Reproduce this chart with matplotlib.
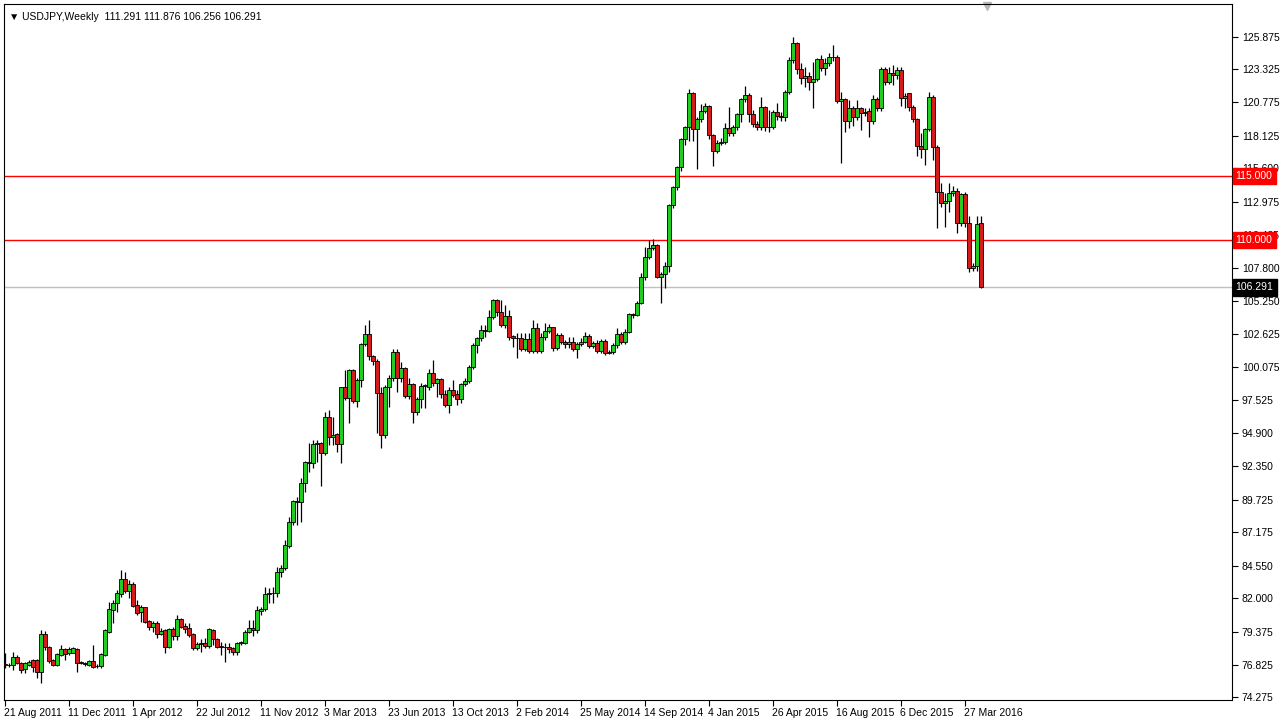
import matplotlib
matplotlib.use('Agg')
import matplotlib.pyplot as plt
import matplotlib.transforms as mtransforms
import numpy as np

plt.rcParams['font.family'] = ['Liberation Sans', 'DejaVu Sans']

# weekly USDJPY candles (one value per week)
opens = [76.90, 76.82, 76.80, 77.45, 76.98, 76.46, 76.80, 77.19, 77.19, 76.28,
         79.22, 78.18, 77.19, 76.80, 77.58, 78.02, 77.71, 77.76, 78.02, 76.98,
         76.90, 76.80, 77.14, 76.75, 76.72, 77.58, 79.40, 81.09, 81.61, 82.32,
         83.52, 82.60, 83.125, 81.48, 80.91, 81.30, 80.23, 79.79, 80.10, 79.22,
         79.53, 78.18, 79.58, 79.06, 80.36, 79.87, 79.66, 79.19, 78.15, 78.41,
         78.54, 78.28, 79.53, 78.80, 78.23, 78.20, 78.23, 78.15, 77.84, 78.49,
         78.54, 79.40, 79.71, 79.50, 81.00, 81.15, 82.35, 82.40, 82.40, 84.09,
         84.35, 86.09, 87.99, 89.60, 89.51, 90.99, 92.60, 92.55, 94.06, 94.11,
         93.33, 96.15, 94.64, 94.84, 94.04, 98.49, 97.63, 99.84, 97.45, 99.06,
         101.85, 102.63, 100.96, 100.57, 98.07, 94.77, 98.49, 99.24, 101.22, 99.19,
         99.97, 97.84, 98.72, 96.59, 97.55, 98.62, 98.54, 99.64, 98.80, 99.11,
         97.94, 97.11, 98.28, 97.94, 97.55, 98.72, 98.98, 100.05, 101.80, 102.32,
         102.97, 102.92, 103.96, 105.31, 104.35, 103.36, 104.09, 102.50, 102.32, 102.35,
         101.46, 102.24, 101.33, 103.10, 101.33, 102.40, 102.89, 103.18, 101.54, 102.58,
         102.06, 101.87, 102.06, 101.46, 101.87, 102.03, 102.50, 101.72, 101.93, 101.35,
         102.14, 101.20, 101.28, 101.80, 102.66, 102.06, 102.84, 104.19, 104.15, 105.10,
         107.14, 108.70, 109.35, 109.61, 107.08, 107.32, 107.97, 112.73, 114.11, 115.68,
         117.86, 118.80, 121.46, 118.65, 119.43, 120.10, 120.47, 118.20, 116.98, 117.60,
         117.68, 118.72, 118.33, 118.80, 119.84, 120.99, 121.30, 119.84, 119.06, 118.85,
         120.36, 118.80, 118.85, 120.03, 119.69, 119.58, 121.59, 124.06, 125.36, 123.33,
         122.63, 122.81, 122.37, 122.55, 124.11, 123.41, 123.85, 124.27, 124.30, 120.89,
         120.99, 119.32, 120.29, 119.63, 120.29, 119.95, 120.10, 119.32, 120.99, 120.29,
         123.33, 122.37, 123.07, 122.90, 123.30, 121.07, 121.46, 120.42, 119.43, 117.34,
         117.08, 118.65, 121.20, 117.24, 113.78, 112.86, 113.05, 113.65, 113.83, 111.30,
         113.57, 111.35, 107.79, 107.97, 111.291]

highs = [77.70, 76.95, 77.84, 77.60, 77.05, 77.06, 77.15, 77.30, 77.30, 79.53,
         79.48, 78.25, 77.30, 77.75, 78.35, 78.10, 78.20, 78.23, 78.10, 77.10,
         77.00, 77.20, 78.36, 76.85, 77.70, 79.60, 81.74, 81.875, 82.66, 84.22,
         84.09, 83.44, 83.31, 81.875, 81.48, 81.35, 80.31, 80.20, 80.20, 79.66,
         79.60, 79.70, 79.79, 80.70, 80.50, 80.05, 80.05, 79.27, 78.62, 78.80,
         78.88, 79.66, 79.60, 78.88, 78.62, 78.49, 78.49, 78.20, 78.62, 78.70,
         79.53, 80.30, 80.30, 81.40, 81.30, 82.86, 82.79, 82.92, 84.48, 84.61,
         86.56, 88.39, 89.69, 89.95, 91.38, 92.76, 94.11, 94.375, 94.375, 94.24,
         96.59, 96.72, 96.20, 94.90, 98.54, 99.84, 99.90, 99.90, 99.19, 101.93,
         103.36, 103.75, 101.00, 100.70, 98.54, 98.67, 99.45, 101.46, 101.46, 100.50,
         100.10, 99.19, 98.80, 97.70, 98.80, 98.75, 99.90, 100.63, 99.20, 99.20,
         98.28, 98.50, 99.06, 98.28, 98.80, 99.19, 100.23, 101.93, 102.45, 103.36,
         103.36, 104.53, 105.39, 105.39, 105.31, 104.92, 104.53, 102.58, 102.71, 102.71,
         102.71, 102.71, 103.75, 103.49, 102.70, 103.49, 103.40, 103.23, 102.70, 102.71,
         102.20, 102.40, 102.40, 102.00, 102.32, 102.84, 102.66, 102.10, 102.19, 102.25,
         102.30, 101.40, 101.93, 103.10, 102.80, 103.02, 104.30, 104.30, 105.20, 107.40,
         109.48, 110.00, 110.05, 109.70, 107.50, 108.30, 112.80, 114.22, 115.78, 118.00,
         118.91, 121.77, 121.60, 119.60, 120.625, 120.73, 120.55, 118.30, 117.80, 117.95,
         119.11, 120.36, 119.00, 119.95, 121.07, 122.00, 121.50, 120.16, 119.30, 121.20,
         120.46, 120.16, 120.16, 120.68, 120.00, 121.72, 124.30, 125.83, 125.50, 123.80,
         123.54, 123.10, 123.93, 124.20, 124.45, 124.20, 124.58, 125.23, 124.45, 121.59,
         121.10, 120.94, 120.50, 120.94, 120.42, 120.30, 120.30, 121.33, 121.20, 123.50,
         123.54, 123.54, 123.70, 123.50, 123.50, 121.46, 121.50, 120.55, 119.50, 118.33,
         118.72, 121.59, 121.33, 117.40, 114.43, 113.65, 114.48, 114.22, 114.04, 113.70,
         113.78, 111.875, 108.20, 111.875, 111.876]

lows = [76.55, 76.65, 76.41, 76.85, 76.15, 76.15, 76.70, 76.28, 75.76, 75.36,
        77.97, 76.93, 76.70, 76.70, 77.50, 77.19, 77.60, 77.70, 76.28, 76.85,
        76.75, 76.70, 76.54, 76.54, 76.54, 77.50, 79.30, 80.05, 80.96, 82.14,
        82.40, 82.00, 81.35, 80.70, 80.18, 80.05, 79.53, 79.40, 78.88, 79.14,
        77.71, 78.10, 78.75, 78.75, 79.66, 79.27, 78.95, 78.00, 77.97, 77.84,
        78.10, 78.10, 78.36, 78.10, 77.58, 77.06, 77.71, 77.58, 77.58, 78.36,
        78.40, 79.30, 79.10, 79.30, 80.70, 81.00, 81.61, 81.67, 82.14, 83.70,
        84.20, 85.91, 87.73, 87.73, 87.99, 90.34, 91.90, 92.16, 92.68, 90.78,
        93.20, 93.98, 93.98, 93.46, 92.55, 97.50, 95.68, 97.24, 96.98, 98.54,
        101.70, 100.60, 100.23, 94.90, 93.72, 94.50, 96.93, 99.00, 98.15, 98.90,
        97.63, 97.60, 95.73, 96.33, 96.85, 96.85, 98.30, 98.60, 97.76, 97.63,
        96.95, 96.51, 97.70, 97.11, 97.30, 98.60, 98.85, 99.90, 101.15, 102.10,
        102.45, 102.80, 103.80, 104.10, 103.23, 103.10, 102.20, 101.67, 100.76, 101.30,
        101.30, 101.20, 101.15, 101.20, 101.20, 102.20, 102.70, 101.30, 101.40, 101.90,
        101.60, 101.60, 101.30, 100.76, 101.70, 101.93, 101.54, 101.60, 101.20, 101.20,
        101.02, 101.10, 101.10, 101.60, 101.87, 101.90, 102.70, 103.90, 104.10, 105.00,
        106.90, 108.50, 109.20, 107.00, 105.10, 106.22, 107.50, 112.47, 113.90, 115.40,
        117.42, 117.76, 117.76, 115.52, 119.20, 119.90, 117.90, 115.78, 116.80, 117.40,
        117.50, 118.10, 118.12, 118.60, 119.24, 120.80, 119.24, 118.80, 118.60, 118.60,
        118.50, 118.46, 118.70, 119.40, 119.30, 119.30, 121.40, 123.80, 123.00, 122.20,
        121.98, 121.72, 120.29, 122.40, 123.20, 122.89, 123.60, 124.00, 120.68, 116.04,
        118.46, 118.72, 118.91, 119.40, 118.59, 119.70, 118.02, 119.10, 120.10, 120.10,
        122.10, 122.20, 122.10, 122.60, 120.47, 120.29, 120.10, 119.20, 116.56, 116.38,
        115.86, 118.50, 116.25, 110.91, 112.60, 111.04, 112.21, 113.40, 110.57, 111.10,
        111.00, 107.53, 107.60, 107.60, 106.256]

closes = [76.80, 76.78, 77.45, 76.93, 76.41, 76.98, 77.06, 76.67, 76.28, 79.22,
          78.23, 77.14, 76.80, 77.66, 78.02, 77.63, 78.02, 78.10, 76.93, 76.95,
          76.88, 77.14, 76.67, 76.70, 77.63, 79.53, 81.15, 81.67, 82.40, 83.52,
          82.60, 83.125, 81.43, 80.83, 81.30, 80.18, 79.79, 80.10, 79.22, 79.48,
          78.18, 79.61, 79.06, 80.36, 79.79, 79.61, 79.14, 78.15, 78.44, 78.54,
          78.28, 79.58, 78.80, 78.23, 78.20, 78.18, 78.02, 77.84, 78.54, 78.62,
          79.40, 79.71, 79.50, 81.10, 81.15, 82.34, 82.40, 82.45, 84.09, 84.35,
          86.17, 87.99, 89.61, 89.56, 90.99, 92.63, 92.63, 94.06, 94.11, 93.33,
          96.15, 94.64, 94.80, 94.04, 98.49, 97.63, 99.84, 97.45, 99.06, 101.85,
          102.63, 100.96, 100.57, 98.07, 94.77, 98.49, 99.24, 101.22, 99.19, 99.97,
          97.84, 98.72, 96.59, 97.55, 98.62, 98.70, 99.64, 98.80, 99.11, 97.94,
          97.11, 98.28, 97.89, 97.55, 98.72, 98.98, 100.05, 101.80, 102.32, 102.97,
          102.92, 103.96, 105.31, 104.35, 103.36, 104.09, 102.45, 102.32, 102.35, 101.46,
          102.24, 101.33, 103.10, 101.33, 102.40, 102.89, 103.18, 101.54, 102.58, 102.06,
          101.87, 102.06, 101.46, 101.87, 102.03, 102.50, 101.72, 101.93, 101.35, 102.14,
          101.20, 101.28, 101.80, 102.66, 102.06, 102.84, 104.19, 104.15, 105.10, 107.14,
          108.70, 109.35, 109.61, 107.08, 107.32, 107.97, 112.73, 114.11, 115.68, 117.86,
          118.80, 121.46, 118.65, 119.43, 120.10, 120.47, 118.20, 116.98, 117.60, 117.68,
          118.72, 118.33, 118.80, 119.84, 120.99, 121.30, 119.84, 119.06, 118.85, 120.36,
          118.80, 118.85, 120.03, 119.69, 119.58, 121.59, 124.06, 125.36, 123.33, 122.63,
          122.81, 122.37, 122.55, 124.11, 123.41, 123.85, 124.27, 124.30, 120.89, 120.99,
          119.32, 120.29, 119.63, 120.29, 119.95, 120.00, 119.32, 120.99, 120.29, 123.33,
          122.37, 123.07, 122.90, 123.30, 121.07, 121.25, 120.42, 119.43, 117.34, 117.08,
          118.65, 121.20, 117.24, 113.78, 112.86, 113.05, 113.65, 113.83, 111.30, 113.57,
          111.30, 107.79, 107.97, 111.25, 106.291]

date_labels = ['21 Aug 2011', '11 Dec 2011', '1 Apr 2012', '22 Jul 2012', '11 Nov 2012',
               '3 Mar 2013', '23 Jun 2013', '13 Oct 2013', '2 Feb 2014', '25 May 2014',
               '14 Sep 2014', '4 Jan 2015', '26 Apr 2015', '16 Aug 2015', '6 Dec 2015',
               '27 Mar 2016']
price_ticks = [125.875, 123.325, 120.775, 118.125, 115.600, 112.975, 110.425, 107.800,
               105.250, 102.625, 100.075, 97.525, 94.900, 92.350, 89.725, 87.175,
               84.550, 82.000, 79.375, 76.825, 74.275]
levels = [115.000, 110.000]
last_price = 106.291

o = np.array(opens)
h = np.array(highs)
l = np.array(lows)
c = np.array(closes)
n = len(c)
x = np.arange(n)

W, H = 1280, 723
fig = plt.figure(figsize=(W / 100, H / 100), dpi=100)
ax = fig.add_axes([4 / W, 23 / H, 1228 / W, 696 / H])
ax.set_facecolor('white')

up = c >= o
green = '#22cc22'
red = '#d41c1c'

ax.vlines(x, l, h, color='black', linewidth=0.9, zorder=2)
body_lo = np.minimum(o, c)
body_h = np.maximum(np.abs(c - o), 0.05)
ax.bar(x, body_h, bottom=body_lo, width=0.78,
       color=np.where(up, green, red), edgecolor='black', linewidth=0.6, zorder=3)

for lv in levels:
    ax.axhline(lv, color='red', linewidth=1, zorder=1)
ax.axhline(last_price, color='#c0c0c0', linewidth=1, zorder=1)

ax.set_xlim(-0.25, 306.75)
ax.set_ylim(74.0625, 128.4375)

ax.yaxis.tick_right()
ax.set_yticks(price_ticks)
ax.set_yticklabels(['%.3f' % v for v in price_ticks])
ax.tick_params(axis='y', direction='out', length=4, width=0.8, labelsize=7.5, pad=3)
ax.set_xticks(np.arange(len(date_labels)) * 16)
ax.set_xticklabels(date_labels)
ax.tick_params(axis='x', direction='out', length=4, width=0.8, labelsize=7.5, pad=2)
for t in ax.get_xticklabels():
    t.set_ha('left')
    t.set_transform(t.get_transform() + mtransforms.ScaledTranslation(-1 / 100, 0, fig.dpi_scale_trans))
for s in ax.spines.values():
    s.set_linewidth(0.8)

# level boxes on the price scale
trans = mtransforms.blended_transform_factory(ax.transAxes, ax.transData)
for lv in levels:
    ax.text(1.003, lv, '%.3f' % lv, transform=trans, fontsize=7.5, color='white',
            va='center', ha='left', zorder=5,
            bbox=dict(boxstyle='square,pad=0.3', fc='red', ec='red'))
ax.text(1.003, last_price, '%.3f' % last_price, transform=trans, fontsize=7.5,
        color='white', va='center', ha='left', zorder=5,
        bbox=dict(boxstyle='square,pad=0.3', fc='black', ec='black'))

ax.text(0.004, 0.988, '\u25bc USDJPY,Weekly  %.3f %.3f %.3f %.3f' % (o[-1], h[-1], l[-1], c[-1]),
        transform=ax.transAxes, fontsize=7.5, va='top', ha='left')
ax.plot([245.5], [128.25], marker='v', color='#b8b8b8', markersize=6, clip_on=False)

fig.savefig('out.png', dpi=100, facecolor='white')
